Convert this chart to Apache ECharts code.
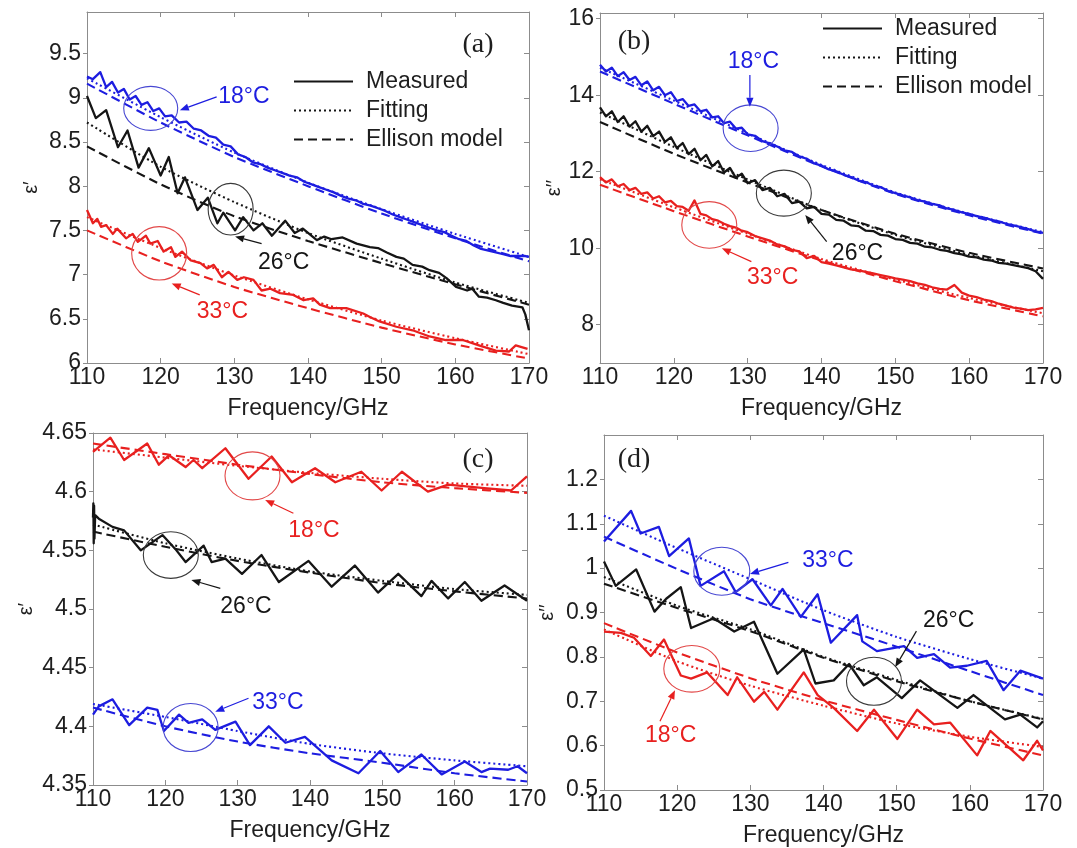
<!DOCTYPE html>
<html>
<head>
<meta charset="utf-8">
<title>Permittivity vs frequency</title>
<script src="https://cdn.jsdelivr.net/npm/echarts@6/dist/echarts.min.js"></script>
<style>
  html, body { margin: 0; padding: 0; background: #fff; }
  #chart { width: 1077px; height: 848px; }
</style>
</head>
<body>
<div id="chart"></div>
<script>
// ---- tick values ----
const FREQ_TICKS = [110, 120, 130, 140, 150, 160, 170];
const A_TICKS = [6, 6.5, 7, 7.5, 8, 8.5, 9, 9.5];
const B_TICKS = [8, 10, 12, 14, 16];
const C_TICKS = [4.35, 4.4, 4.45, 4.5, 4.55, 4.6, 4.65];
const D_TICKS = [0.5, 0.6, 0.7, 0.8, 0.9, 1, 1.1, 1.2];

// frequencies of the model curves (GHz)
const MODEL_FREQ = [110, 120, 130, 140, 150, 160, 170];

// ---- (a) real part, water ----
const aMeas18 = [[110,9.24],[110.8,9.21],[111.8,9.29],[112.6,9.12],[113.4,9.18],[114.2,9.06],[115,9.10],[115.8,8.98],[116.6,9.02],[117.4,8.92],[118.2,8.95],[119,8.85],[119.8,8.88],[120.6,8.79],[121.5,8.80],[122.5,8.72],[123.5,8.73],[124.5,8.65],[125.5,8.63],[126.5,8.57],[127.5,8.55],[128.5,8.47],[129.5,8.45],[130.5,8.36],[131.5,8.33],[132.5,8.27],[133.5,8.25],[134.5,8.21],[135.5,8.18],[136.5,8.15],[137.5,8.12],[138.5,8.10],[139.5,8.05],[140.5,8.02],[141.5,7.99],[142.5,7.96],[143.5,7.93],[144.5,7.89],[145.5,7.86],[146.5,7.84],[147.5,7.80],[148.5,7.78],[149.5,7.75],[150.5,7.72],[151.5,7.68],[152.5,7.65],[153.5,7.62],[154.5,7.59],[155.5,7.56],[156.5,7.53],[157.5,7.50],[158.5,7.48],[159.5,7.44],[160.5,7.40],[161.5,7.38],[162.5,7.33],[163.5,7.29],[164.5,7.27],[165.5,7.25],[166.5,7.23],[167.5,7.21],[168.5,7.21],[169.5,7.21],[170,7.20]];
const aMeas26 = [[110,9.02],[111.2,8.77],[112.6,8.86],[114.2,8.44],[115.5,8.63],[117,8.21],[118.4,8.43],[120,8.12],[121.1,8.33],[122.3,7.92],[123.3,8.10],[125,7.73],[126.4,7.87],[127.7,7.58],[128.5,7.70],[130.1,7.50],[131.2,7.65],[132.6,7.50],[133.8,7.58],[135.1,7.44],[136.9,7.61],[138.2,7.47],[139.3,7.52],[141.2,7.39],[142.2,7.43],[143.2,7.40],[144.7,7.42],[146.6,7.35],[148.4,7.31],[149.5,7.30],[150.7,7.25],[152,7.20],[153,7.18],[154.2,7.11],[155.5,7.09],[156.5,7.05],[157.8,7.02],[158.8,6.96],[160.1,6.86],[161.6,6.82],[162.3,6.84],[163.2,6.75],[164.3,6.74],[165.5,6.71],[166.5,6.68],[167.7,6.65],[169.1,6.63],[169.5,6.55],[170,6.37]];
const aMeas33 = [[110,7.73],[110.8,7.58],[111.4,7.63],[111.9,7.54],[112.6,7.56],[113.5,7.46],[114.1,7.52],[115.3,7.41],[116.2,7.46],[116.9,7.37],[118,7.44],[118.6,7.35],[119.6,7.38],[120.4,7.26],[121.4,7.31],[122,7.20],[122.9,7.26],[124.1,7.16],[125.4,7.13],[126.3,7.07],[127.2,7.11],[128.3,6.97],[129.2,7.03],[130.4,6.94],[131.3,6.97],[132.6,6.94],[133.7,6.82],[134.9,6.84],[136.2,6.79],[138,6.77],[139.4,6.71],[140.7,6.73],[141.6,6.66],[143,6.62],[145.2,6.62],[147.5,6.56],[148.4,6.52],[149.7,6.47],[152,6.41],[154.2,6.37],[156.5,6.30],[158.7,6.26],[161,6.26],[163.2,6.20],[165.5,6.14],[167.3,6.13],[168.2,6.20],[169.8,6.16]];
const aFit18 = [9.22, 8.78, 8.38, 8.04, 7.74, 7.46, 7.20];
const aEll18 = [9.16, 8.72, 8.33, 8.00, 7.69, 7.41, 7.15];
const aFit26 = [8.72, 8.22, 7.82, 7.47, 7.18, 6.91, 6.68];
const aEll26 = [8.45, 8.02, 7.66, 7.38, 7.13, 6.89, 6.66];
const aFit33 = [7.65, 7.30, 6.99, 6.72, 6.48, 6.28, 6.10];
const aEll33 = [7.50, 7.15, 6.86, 6.62, 6.40, 6.21, 6.05];

// ---- (b) imaginary part, water ----
const bMeas18 = [[110,14.80],[110.8,14.62],[111.6,14.72],[112.4,14.50],[113.2,14.60],[114,14.40],[114.8,14.48],[115.6,14.26],[116.4,14.36],[117.2,14.13],[118,14.22],[118.8,14.00],[119.6,14.08],[120.4,13.85],[121.2,13.90],[122,13.72],[122.8,13.76],[123.6,13.58],[124.4,13.62],[125.2,13.42],[126,13.45],[126.8,13.27],[127.6,13.31],[128.4,13.13],[129.2,13.15],[130,12.98],[131,12.94],[132,12.80],[133,12.74],[134,12.66],[135,12.56],[136,12.52],[137,12.40],[138,12.34],[139,12.22],[140,12.16],[141,12.06],[142,12.01],[143,11.92],[144,11.86],[145,11.77],[146,11.73],[147,11.64],[148,11.60],[149,11.50],[150,11.44],[151,11.38],[152,11.33],[153,11.26],[154,11.22],[155,11.16],[156,11.12],[157,11.04],[158,11.00],[159,10.94],[160,10.90],[161,10.84],[162,10.80],[163,10.74],[164,10.70],[165,10.64],[166,10.60],[167,10.55],[168,10.50],[169,10.44],[170,10.40]];
const bMeas26 = [[110,13.68],[110.8,13.45],[111.6,13.58],[112.4,13.30],[113.2,13.45],[114,13.18],[114.8,13.32],[115.6,13.05],[116.4,13.20],[117.2,12.93],[118,13.05],[118.8,12.78],[119.6,12.90],[120.4,12.62],[121.2,12.75],[122,12.46],[122.8,12.60],[123.6,12.30],[124.4,12.44],[125.2,12.14],[126,12.28],[126.8,11.98],[127.6,12.10],[128.4,11.84],[129.2,11.95],[130,11.70],[131,11.78],[132,11.52],[133,11.58],[134,11.36],[135,11.42],[136,11.18],[137,11.22],[138,11.04],[139,11.08],[140,10.90],[141,10.88],[142,10.74],[143,10.72],[144,10.60],[145,10.58],[146,10.46],[147,10.45],[148,10.35],[149,10.33],[150,10.24],[151,10.22],[152,10.14],[153,10.12],[154,10.04],[155,10.02],[156,9.96],[157,9.93],[158,9.87],[159,9.84],[160,9.78],[161,9.76],[162,9.70],[163,9.68],[164,9.62],[165,9.60],[166,9.56],[167,9.52],[168,9.48],[169,9.40],[170,9.20]];
const bMeas33 = [[110,11.86],[110.8,11.72],[111.6,11.80],[112.4,11.62],[113.2,11.68],[114,11.52],[114.8,11.58],[115.6,11.42],[116.4,11.46],[117.2,11.30],[118,11.36],[118.8,11.20],[119.6,11.24],[120.4,11.10],[121.2,11.08],[122,10.98],[122.8,11.25],[123.6,10.90],[124.4,10.86],[125.2,10.76],[126,10.72],[126.8,10.64],[127.6,10.58],[128.4,10.54],[129.2,10.46],[130,10.42],[131,10.32],[132,10.26],[133,10.20],[134,10.10],[135,10.05],[136,9.96],[137,9.92],[138,9.74],[139,9.80],[140,9.64],[141,9.60],[142,9.55],[143,9.50],[144,9.45],[145,9.42],[146,9.38],[147,9.34],[148,9.30],[149,9.26],[150,9.21],[151,9.18],[152,9.14],[153,9.08],[154,9.04],[155,8.98],[156,8.94],[157,8.92],[158,9.04],[159,8.84],[160,8.76],[161,8.72],[162,8.66],[163,8.62],[164,8.55],[165,8.50],[166,8.45],[167,8.42],[168,8.38],[169,8.40],[170,8.44]];
const bFit18 = [14.72, 13.86, 13.00, 12.18, 11.46, 10.90, 10.42];
const bEll18 = [14.62, 13.78, 12.95, 12.14, 11.42, 10.86, 10.38];
const bFit26 = [13.55, 12.65, 11.80, 11.00, 10.35, 9.83, 9.40];
const bEll26 = [13.30, 12.47, 11.72, 11.00, 10.38, 9.88, 9.47];
const bFit33 = [11.80, 11.07, 10.38, 9.72, 9.18, 8.70, 8.30];
const bEll33 = [11.66, 10.97, 10.31, 9.68, 9.14, 8.64, 8.22];

// ---- (c) real part ----
const cMeas18 = [[110,4.634],[112.4,4.646],[114.3,4.627],[117.5,4.641],[119.1,4.623],[120.5,4.631],[122.8,4.621],[123.9,4.627],[125.1,4.620],[128.3,4.637],[131.5,4.611],[134.7,4.630],[137.5,4.608],[140.7,4.620],[143.5,4.608],[147.1,4.617],[149.9,4.601],[152.7,4.617],[156.3,4.600],[159.1,4.606],[162.3,4.604],[164.1,4.603],[167.8,4.601],[170,4.613]];
const cMeas26 = [[110,4.578],[110.05,4.590],[110.1,4.556],[110.15,4.588],[110.2,4.560],[110.3,4.580],[110.8,4.577],[112.7,4.570],[114.3,4.567],[116.6,4.550],[119.6,4.563],[121.4,4.551],[122.8,4.540],[125.3,4.554],[126.4,4.540],[128.3,4.543],[130.6,4.530],[133.3,4.546],[135.7,4.523],[139.8,4.541],[143,4.519],[146.2,4.537],[149.4,4.514],[152.2,4.530],[155.4,4.511],[156.8,4.524],[159.1,4.509],[161.4,4.523],[163.7,4.507],[166.9,4.520],[170,4.507]];
const cMeas33 = [[110,4.410],[110.8,4.417],[112.7,4.423],[115,4.401],[117.5,4.416],[118.9,4.414],[119.8,4.396],[121.9,4.410],[123.2,4.403],[125.1,4.406],[126.9,4.397],[129.7,4.404],[131.7,4.384],[134.3,4.400],[136.6,4.386],[139.3,4.391],[143,4.371],[146.7,4.360],[149.7,4.379],[152.2,4.361],[155.4,4.376],[158.2,4.359],[161.4,4.370],[163.7,4.361],[164.9,4.364],[167.4,4.363],[168.7,4.366],[170,4.360]];
const cFit18 = [4.636, 4.629, 4.622, 4.616, 4.611, 4.607, 4.605];
const cEll18 = [4.641, 4.632, 4.623, 4.615, 4.608, 4.603, 4.599];
const cFit26 = [4.572, 4.556, 4.543, 4.532, 4.524, 4.517, 4.512];
const cEll26 = [4.566, 4.553, 4.541, 4.531, 4.522, 4.515, 4.509];
const cFit33 = [4.419, 4.408, 4.396, 4.385, 4.377, 4.371, 4.366];
const cEll33 = [4.416, 4.400, 4.387, 4.377, 4.369, 4.360, 4.353];

// ---- (d) imaginary part ----
const dMeas33 = [[110,1.060],[113.7,1.129],[115,1.078],[117.5,1.093],[118.9,1.027],[121.6,1.067],[123.2,0.960],[126.4,0.993],[128,0.946],[130.3,0.975],[132.8,0.916],[134.4,0.953],[136.9,0.890],[139.2,0.941],[141,0.832],[144.6,0.894],[145.3,0.835],[147.3,0.813],[151,0.824],[152.8,0.798],[155.1,0.806],[157.3,0.776],[159.6,0.780],[162.3,0.791],[164.6,0.725],[166.9,0.769],[170,0.751]];
const dMeas26 = [[110,1.015],[111.6,0.960],[114.4,0.997],[116.9,0.902],[118.5,0.931],[120.5,0.957],[121.9,0.865],[125,0.887],[127.8,0.857],[130.5,0.879],[133.7,0.762],[137.3,0.817],[138.9,0.740],[141.4,0.747],[143.5,0.784],[145.5,0.736],[147.3,0.754],[150.7,0.707],[153.2,0.747],[158.3,0.685],[160.5,0.714],[164.8,0.659],[166.9,0.670],[169.2,0.641],[170,0.655]];
const dMeas18 = [[110,0.857],[112.3,0.854],[114.1,0.843],[116.4,0.802],[118.2,0.839],[120.5,0.758],[121.9,0.751],[124.1,0.765],[126.9,0.714],[128.2,0.754],[130.5,0.699],[131.9,0.721],[133.7,0.681],[137.3,0.765],[139.2,0.714],[141.4,0.685],[144.6,0.633],[146.9,0.681],[150.1,0.615],[152.8,0.681],[155.1,0.648],[157.3,0.652],[161,0.578],[162.8,0.633],[167.3,0.567],[169.2,0.611],[170,0.589]];
const dFit33 = [1.118, 1.045, 0.975, 0.905, 0.845, 0.795, 0.751];
const dEll33 = [1.071, 0.998, 0.930, 0.876, 0.823, 0.768, 0.714];
const dFit26 = [0.980, 0.915, 0.862, 0.800, 0.748, 0.700, 0.660];
const dEll26 = [0.965, 0.910, 0.858, 0.798, 0.745, 0.700, 0.659];
const dFit18 = [0.862, 0.790, 0.735, 0.690, 0.650, 0.620, 0.597];
const dEll18 = [0.876, 0.810, 0.752, 0.702, 0.658, 0.616, 0.578];

// ---- styling ----
const BLUE = '#1d1de0';
const BLACK = '#151515';
const RED = '#e8201f';
const FRAME = '#8c8c8c';
const TXT = '#1e1e1e';
const SANS = '"Liberation Sans", Arial, Helvetica, sans-serif';
const SERIF = '"Liberation Serif", "Times New Roman", serif';
const FS = 23;

// callouts: ellipse centre, arrow tail/tip and label anchor in axis units
const calloutsA = [
  { label: '18°C', color: BLUE,  ring: '#4747d2', at: [118.65, 8.88], r: [27, 22],    from: [127.6, 9.01], to: [122.6, 8.86], text: [127.8, 9.01] },
  { label: '26°C', color: BLACK, ring: '#3a3a3a', at: [129.5, 7.74],  r: [22.5, 25.8], from: [133.7, 7.35], to: [130.1, 7.43], text: [133.2, 7.14] },
  { label: '33°C', color: RED,   ring: '#e24848', at: [119.8, 7.24],  r: [27.5, 26.7], from: [125.3, 6.77], to: [121.5, 6.90], text: [124.9, 6.58] }
];
const calloutsB = [
  { label: '18°C', color: BLUE,  ring: '#4747d2', at: [130.4, 13.14], r: [27.5, 23.3], from: [130.3, 14.53], to: [130.3, 13.70], text: [127.3, 14.87] },
  { label: '26°C', color: BLACK, ring: '#3a3a3a', at: [134.9, 11.44], r: [27.5, 23],   from: [140.7, 10.17], to: [137.8, 10.87], text: [141.4, 9.85] },
  { label: '33°C', color: RED,   ring: '#e24848', at: [124.8, 10.61], r: [27.5, 23.3], from: [130.5, 9.65],  to: [126.5, 10.0],  text: [129.9, 9.22] }
];
const calloutsC = [
  { label: '18°C', color: RED,   ring: '#e24848', at: [132.05, 4.6135], r: [27.5, 24],   from: [137.7, 4.5816], to: [133.8, 4.5929], text: [137.0, 4.5665] },
  { label: '26°C', color: BLACK, ring: '#3a3a3a', at: [120.76, 4.546],  r: [27.5, 23.3], from: [127.6, 4.5176], to: [123.6, 4.5247], text: [127.6, 4.5017] },
  { label: '33°C', color: BLUE,  ring: '#4747d2', at: [123.5, 4.399],   r: [27.5, 24],   from: [131.5, 4.4239], to: [126.9, 4.4125], text: [132.0, 4.4199] }
];
const calloutsD = [
  { label: '33°C', color: BLUE,  ring: '#4747d2', at: [126.1, 0.993], r: [28, 24],     from: [135.2, 1.013], to: [129.95, 0.987], text: [137.1, 1.017] },
  { label: '26°C', color: BLACK, ring: '#3a3a3a', at: [146.9, 0.745], r: [27.5, 24],   from: [152.7, 0.858], to: [149.8, 0.777],  text: [153.6, 0.882] },
  { label: '18°C', color: RED,   ring: '#e24848', at: [122.0, 0.773], r: [28, 23.3],   from: [117.65, 0.655], to: [119.7, 0.725], text: [115.6, 0.622] }
];

const grids = [
  { left: 87,  right: 548, top: 12,  bottom: 485 },
  { left: 600, right: 34,  top: 13,  bottom: 485 },
  { left: 93,  right: 550, top: 433, bottom: 63 },
  { left: 604, right: 34,  top: 435, bottom: 51 }
];

const panels = [
  { yMin: 6,    yMax: 9.97,  ticks: A_TICKS, name: 'ε′',  gap: 46 },
  { yMin: 7,    yMax: 16.15, ticks: B_TICKS, name: 'ε′′', gap: 36 },
  { yMin: 4.35, yMax: 4.65,  ticks: C_TICKS, name: 'ε′',  gap: 57 },
  { yMin: 0.5,  yMax: 1.3,   ticks: D_TICKS, name: 'ε′′', gap: 47 }
];

const xAxes = [];
const yAxes = [];
panels.forEach((p, i) => {
  xAxes.push({
    type: 'value', gridIndex: i, min: 110, max: 170, position: 'bottom',
    axisLine: { show: true, onZero: false, lineStyle: { color: FRAME, width: 1 } },
    axisTick: { show: true, inside: true, length: 5, customValues: FREQ_TICKS, lineStyle: { color: FRAME } },
    axisLabel: { customValues: FREQ_TICKS, margin: 3, fontSize: FS, color: TXT, fontFamily: SANS, formatter: v => String(v) },
    splitLine: { show: false },
    name: 'Frequency/GHz', nameLocation: 'middle', nameGap: 34,
    nameTextStyle: { fontSize: FS, color: TXT, fontFamily: SANS }
  });
  xAxes.push({
    type: 'value', gridIndex: i, min: 110, max: 170, position: 'top',
    axisLine: { show: true, onZero: false, lineStyle: { color: FRAME, width: 1 } },
    axisTick: { show: true, inside: true, length: 5, customValues: FREQ_TICKS, lineStyle: { color: FRAME } },
    axisLabel: { show: false }, splitLine: { show: false }
  });
  yAxes.push({
    type: 'value', gridIndex: i, min: p.yMin, max: p.yMax, position: 'left',
    axisLine: { show: true, onZero: false, lineStyle: { color: FRAME, width: 1 } },
    axisTick: { show: true, inside: false, length: 4, customValues: p.ticks, lineStyle: { color: FRAME } },
    axisLabel: { customValues: p.ticks, margin: 6, fontSize: FS, color: TXT, fontFamily: SANS, formatter: v => String(v) },
    splitLine: { show: false },
    name: p.name, nameLocation: 'middle', nameRotate: 90, nameGap: p.gap,
    nameTextStyle: { fontSize: 20, color: TXT, fontFamily: SANS }
  });
  yAxes.push({
    type: 'value', gridIndex: i, min: p.yMin, max: p.yMax, position: 'right',
    axisLine: { show: true, onZero: false, lineStyle: { color: FRAME, width: 1 } },
    axisTick: { show: true, inside: true, length: 5, customValues: p.ticks, lineStyle: { color: FRAME } },
    axisLabel: { show: false }, splitLine: { show: false }
  });
});

const DOTTED = [2, 3];
const DASHED = [9, 5];

function measured(name, i, data, color) {
  return {
    type: 'line', name, xAxisIndex: 2 * i, yAxisIndex: 2 * i, data,
    showSymbol: false, symbol: 'none', silent: true, z: 3,
    lineStyle: { color, width: 2.3, type: 'solid', join: 'round' }
  };
}
function model(name, i, values, color, dash) {
  return {
    type: 'line', name, xAxisIndex: 2 * i, yAxisIndex: 2 * i,
    data: MODEL_FREQ.map((f, k) => [f, values[k]]),
    showSymbol: false, symbol: 'none', silent: true, smooth: 0.22, z: 2,
    lineStyle: { color, width: 2.1, type: dash }
  };
}

function callouts(i, list) {
  return {
    type: 'custom', xAxisIndex: 2 * i, yAxisIndex: 2 * i, silent: true, z: 6, clip: false,
    data: list.map(c => c.at),
    renderItem: (params, api) => {
      const c = list[params.dataIndex];
      const p = api.coord(c.at), a = api.coord(c.from), b = api.coord(c.to), t = api.coord(c.text);
      const ang = Math.atan2(b[1] - a[1], b[0] - a[0]);
      const L = 9, W = 3.6;
      const base = [b[0] - L * Math.cos(ang), b[1] - L * Math.sin(ang)];
      const head = [
        b,
        [base[0] + W * Math.sin(ang), base[1] - W * Math.cos(ang)],
        [base[0] - W * Math.sin(ang), base[1] + W * Math.cos(ang)]
      ];
      return {
        type: 'group',
        children: [
          { type: 'ellipse', shape: { cx: p[0], cy: p[1], rx: c.r[0], ry: c.r[1] },
            style: { fill: 'none', stroke: c.ring, lineWidth: 1.1 } },
          { type: 'line', shape: { x1: a[0], y1: a[1], x2: base[0], y2: base[1] },
            style: { stroke: c.color, lineWidth: 1.2 } },
          { type: 'polygon', shape: { points: head }, style: { fill: c.color } },
          { type: 'text', x: t[0], y: t[1],
            style: { text: c.label, fill: c.color, fontSize: FS, fontFamily: SANS, align: 'left', verticalAlign: 'middle' } }
        ]
      };
    }
  };
}

const series = [
  // legend keys
  { type: 'line', name: 'Measured', xAxisIndex: 0, yAxisIndex: 0, data: [], symbol: 'none', lineStyle: { color: BLACK, width: 2, type: 'solid' }, itemStyle: { color: BLACK } },
  { type: 'line', name: 'Fitting', xAxisIndex: 0, yAxisIndex: 0, data: [], symbol: 'none', lineStyle: { color: BLACK, width: 2, type: DOTTED }, itemStyle: { color: BLACK } },
  { type: 'line', name: 'Ellison model', xAxisIndex: 0, yAxisIndex: 0, data: [], symbol: 'none', lineStyle: { color: BLACK, width: 2, type: DASHED }, itemStyle: { color: BLACK } },

  // (a)
  model('a fit 18', 0, aFit18, BLUE, DOTTED), model('a ell 18', 0, aEll18, BLUE, DASHED), measured('a meas 18', 0, aMeas18, BLUE),
  model('a fit 26', 0, aFit26, BLACK, DOTTED), model('a ell 26', 0, aEll26, BLACK, DASHED), measured('a meas 26', 0, aMeas26, BLACK),
  model('a fit 33', 0, aFit33, RED, DOTTED), model('a ell 33', 0, aEll33, RED, DASHED), measured('a meas 33', 0, aMeas33, RED),
  callouts(0, calloutsA),

  // (b)
  model('b fit 18', 1, bFit18, BLUE, DOTTED), model('b ell 18', 1, bEll18, BLUE, DASHED), measured('b meas 18', 1, bMeas18, BLUE),
  model('b fit 26', 1, bFit26, BLACK, DOTTED), model('b ell 26', 1, bEll26, BLACK, DASHED), measured('b meas 26', 1, bMeas26, BLACK),
  model('b fit 33', 1, bFit33, RED, DOTTED), model('b ell 33', 1, bEll33, RED, DASHED), measured('b meas 33', 1, bMeas33, RED),
  callouts(1, calloutsB),

  // (c)
  model('c fit 18', 2, cFit18, RED, DOTTED), model('c ell 18', 2, cEll18, RED, DASHED), measured('c meas 18', 2, cMeas18, RED),
  model('c fit 26', 2, cFit26, BLACK, DOTTED), model('c ell 26', 2, cEll26, BLACK, DASHED), measured('c meas 26', 2, cMeas26, BLACK),
  model('c fit 33', 2, cFit33, BLUE, DOTTED), model('c ell 33', 2, cEll33, BLUE, DASHED), measured('c meas 33', 2, cMeas33, BLUE),
  callouts(2, calloutsC),

  // (d)
  model('d fit 33', 3, dFit33, BLUE, DOTTED), model('d ell 33', 3, dEll33, BLUE, DASHED), measured('d meas 33', 3, dMeas33, BLUE),
  model('d fit 26', 3, dFit26, BLACK, DOTTED), model('d ell 26', 3, dEll26, BLACK, DASHED), measured('d meas 26', 3, dMeas26, BLACK),
  model('d fit 18', 3, dFit18, RED, DOTTED), model('d ell 18', 3, dEll18, RED, DASHED), measured('d meas 18', 3, dMeas18, RED),
  callouts(3, calloutsD)
];

// legend: plain line keys, the point marker is hidden
const legendBase = {
  data: ['Measured', 'Fitting', 'Ellison model'],
  orient: 'vertical', itemWidth: 59, itemHeight: 12, itemGap: 6,
  selectedMode: false, padding: 0,
  itemStyle: { opacity: 0 },
  textStyle: { fontSize: FS, color: TXT, fontFamily: SANS, padding: [0, 0, 0, 8] }
};

const chart = echarts.init(document.getElementById('chart'), null, { renderer: 'canvas' });
chart.setOption({
  animation: false,
  backgroundColor: '#ffffff',
  grid: grids,
  xAxis: xAxes,
  yAxis: yAxes,
  legend: [
    Object.assign({}, legendBase, { left: 293, top: 70 }),
    Object.assign({}, legendBase, { left: 822, top: 17 })
  ],
  graphic: [
    { type: 'text', x: 478, y: 45, style: { text: '(a)', fontSize: 28, fontFamily: SERIF, fill: TXT, align: 'center', verticalAlign: 'middle' } },
    { type: 'text', x: 634, y: 42, style: { text: '(b)', fontSize: 28, fontFamily: SERIF, fill: TXT, align: 'center', verticalAlign: 'middle' } },
    { type: 'text', x: 478, y: 460, style: { text: '(c)', fontSize: 28, fontFamily: SERIF, fill: TXT, align: 'center', verticalAlign: 'middle' } },
    { type: 'text', x: 634, y: 460, style: { text: '(d)', fontSize: 28, fontFamily: SERIF, fill: TXT, align: 'center', verticalAlign: 'middle' } }
  ],
  series
});
</script>
</body>
</html>
